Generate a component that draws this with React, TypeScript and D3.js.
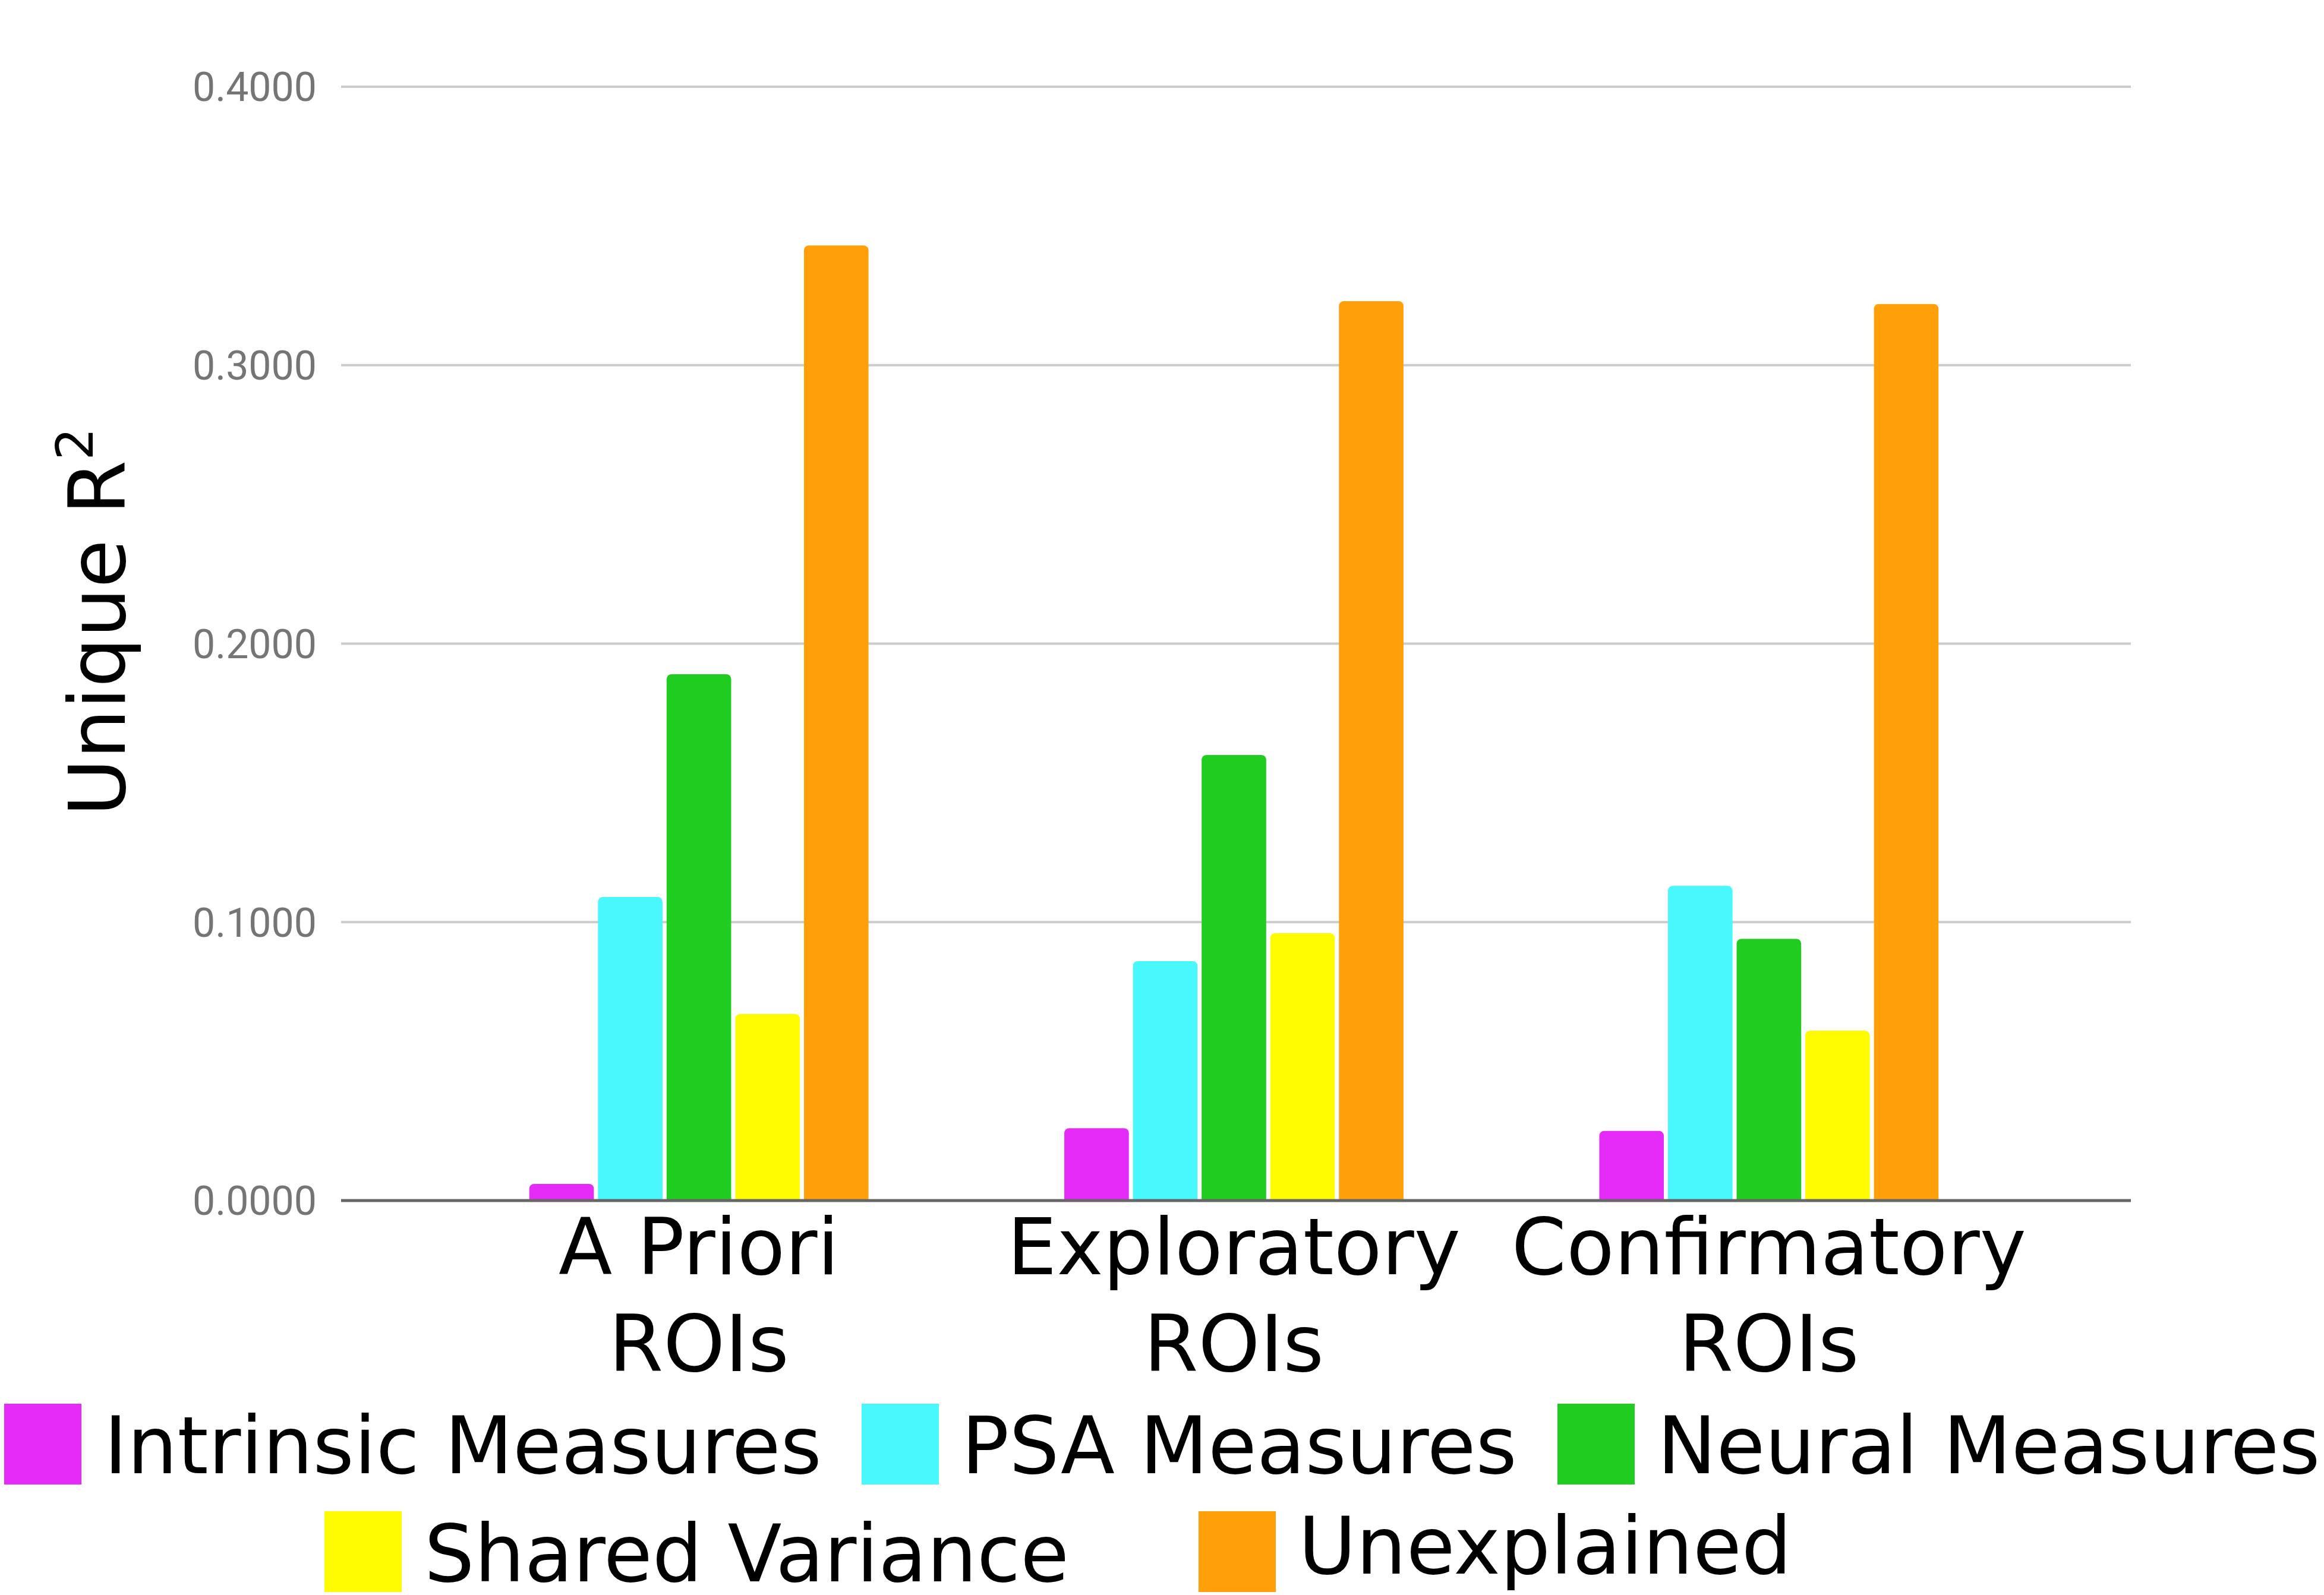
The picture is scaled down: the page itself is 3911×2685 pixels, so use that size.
import { scaleBand, scaleLinear, format } from "d3";

const categories = [
  ["A Priori", "ROIs"],
  ["Exploratory", "ROIs"],
  ["Confirmatory", "ROIs"],
];

const seriesNames = [
  "Intrinsic Measures",
  "PSA Measures",
  "Neural Measures",
  "Shared Variance",
  "Unexplained",
];

const seriesColors = ["#e52bf7", "#48f8fc", "#20cc20", "#fffc00", "#ffa00a"];

// one array per ROI set, in series order
const aPriori = [0.006, 0.109, 0.189, 0.067, 0.343];
const exploratory = [0.026, 0.086, 0.16, 0.096, 0.323];
const confirmatory = [0.025, 0.113, 0.094, 0.061, 0.322];
const values = [aPriori, exploratory, confirmatory];

const yTicks = [0, 0.1, 0.2, 0.3, 0.4];

const W = 3911;
const H = 2685;
const legendFont = "'DejaVu Sans', sans-serif";

export default function App() {
  const groupKeys = categories.map((c) => c.join(" "));

  //scales
  const x0 = scaleBand<string>()
    .domain(groupKeys)
    .range([726, 3427])
    .paddingInner(0.366)
    .paddingOuter(0.183);

  const x1 = scaleBand<string>()
    .domain(seriesNames)
    .range([0, x0.bandwidth()])
    .paddingInner(0.06);

  const y = scaleLinear().domain([0, 0.4]).range([2021, 146]);
  const fmt = format(".4f");

  const plotLeft = 574;
  const plotRight = 3586;

  // legend layout (swatch x, text baseline)
  const legendPos = [
    { x: 7, top: 2363, base: 2480 },
    { x: 1450, top: 2363, base: 2480 },
    { x: 2621, top: 2363, base: 2480 },
    { x: 546, top: 2544, base: 2662 },
    { x: 2017, top: 2544, base: 2649 },
  ];

  return (
    <svg
      width={W}
      height={H}
      style={{ position: "absolute", left: 0, top: 0, background: "#fff" }}
    >
      <rect width={W} height={H} fill="#fff" />

      {/* gridlines */}
      {yTicks
        .filter((t) => t > 0)
        .map((t) => (
          <line
            key={t}
            x1={plotLeft}
            x2={plotRight}
            y1={y(t)}
            y2={y(t)}
            stroke="#cccccc"
            strokeWidth={4}
          />
        ))}

      {/* tick labels */}
      {yTicks.map((t) => (
        <text
          key={"l" + t}
          x={533}
          y={y(t)}
          dy="0.36em"
          textAnchor="end"
          fontFamily="Roboto, sans-serif"
          fontSize={68}
          fill="#757575"
        >
          {fmt(t)}
        </text>
      ))}

      {/* bars */}
      {values.map((row, gi) => (
        <g key={groupKeys[gi]} transform={`translate(${x0(groupKeys[gi])},0)`}>
          {row.map((v, si) => (
            <rect
              key={seriesNames[si]}
              x={x1(seriesNames[si])}
              y={y(v)}
              width={x1.bandwidth()}
              height={y(0) - y(v) + 8}
              rx={8}
              fill={seriesColors[si]}
            />
          ))}
        </g>
      ))}

      {/* white cover under baseline so bottom corners stay square */}
      <rect x={plotLeft} y={y(0)} width={plotRight - plotLeft} height={12} fill="#fff" />

      {/* baseline */}
      <line
        x1={plotLeft}
        x2={plotRight}
        y1={y(0)}
        y2={y(0)}
        stroke="#666666"
        strokeWidth={5}
      />

      {/* category labels */}
      {categories.map((c, i) => {
        const cx = (x0(groupKeys[i]) ?? 0) + x0.bandwidth() / 2;
        return (
          <text
            key={groupKeys[i]}
            textAnchor="middle"
            fontFamily={legendFont}
            fontSize={132}
            fill="#000"
          >
            <tspan x={cx} y={2145}>
              {c[0]}
            </tspan>
            <tspan x={cx} y={2308}>
              {c[1]}
            </tspan>
          </text>
        );
      })}

      {/* y axis title */}
      <text
        transform="translate(210,1374) rotate(-90)"
        fontFamily={legendFont}
        fontSize={132}
        fill="#000"
      >
        Unique R
        <tspan fontSize={86} dy={-54}>
          2
        </tspan>
      </text>

      {/* legend */}
      {seriesNames.map((name, i) => (
        <g key={name}>
          <rect
            x={legendPos[i].x}
            y={legendPos[i].top}
            width={130}
            height={136}
            fill={seriesColors[i]}
          />
          <text
            x={legendPos[i].x + 168}
            y={legendPos[i].base}
            fontFamily={legendFont}
            fontSize={133}
            fill="#000"
          >
            {name}
          </text>
        </g>
      ))}
    </svg>
  );
}
